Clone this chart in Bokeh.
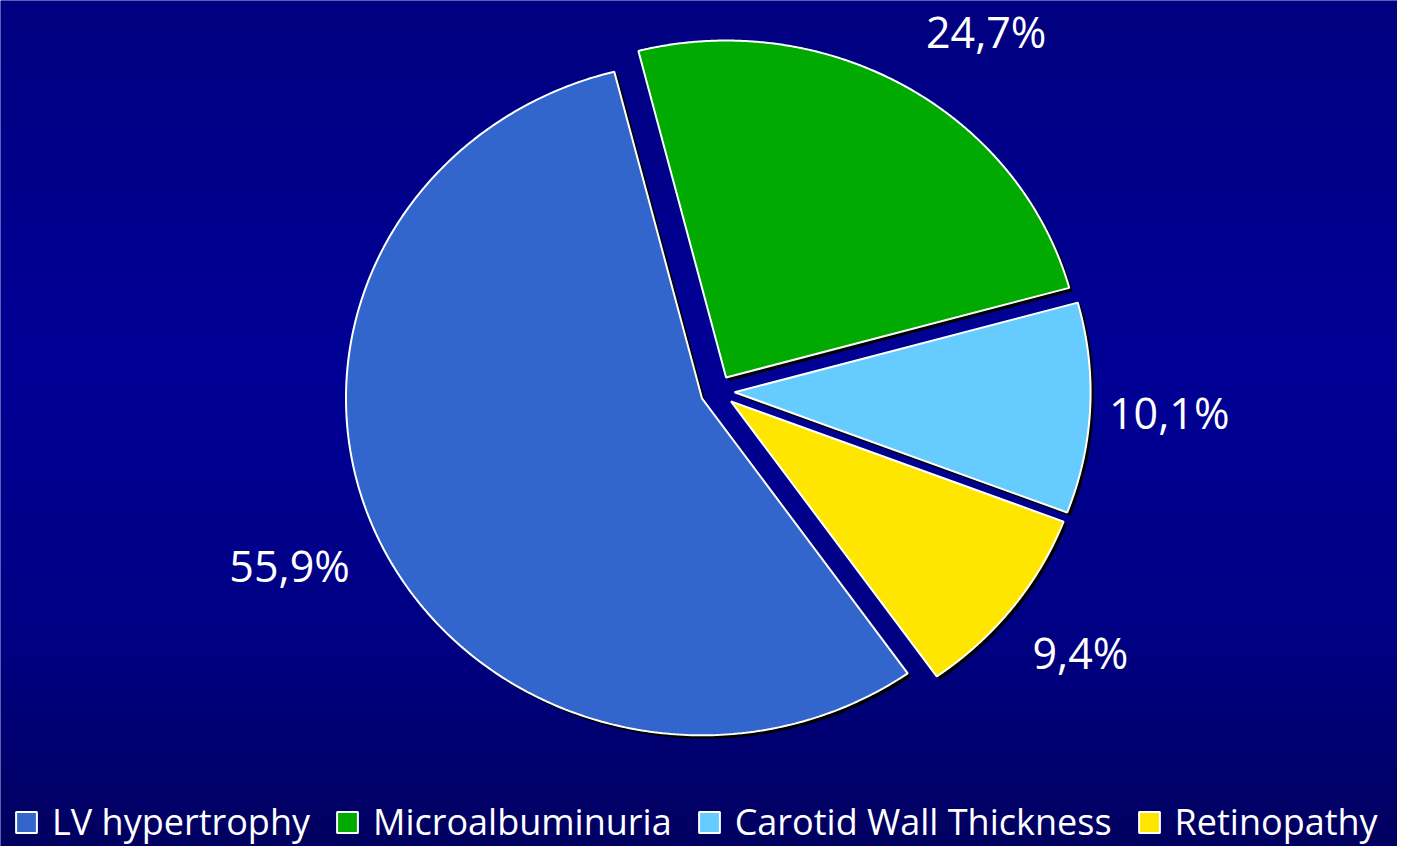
import numpy as np
from bokeh.plotting import figure
from bokeh.models import ColumnDataSource, Legend, LegendItem, Range1d
from bokeh.core.properties import value
from bokeh.embed import file_html
from bokeh.resources import INLINE

# ---- data ----
categories = ["LV hypertrophy", "Microalbuminuria", "Carotid Wall Thickness", "Retinopathy"]
percentages = [55.9, 24.7, 10.1, 9.4]
label_texts = ["55,9%", "24,7%", "10,1%", "9,4%"]
colors = ["#3366CC", "#00AA00", "#66CCFF", "#FFE600"]

# ---- layout / style ----
W, H = 1397, 846
RX, RY = 356, 337          # pixels per data unit (pie is slightly elliptical)
CX, CY = 717, 391          # pie centre in figure pixels from top-left
START_DEG = -54.7          # slices run clockwise from here
EXPLODE = 0.048
SHADOW_PX = 3
LABEL_R = 1.29
label_dx = [-11, 38, -7, 0]
label_dy = [-8, 16, 0, -5]
FONT = "Open Sans"

x0, x1 = -CX / RX, (W - CX) / RX
y1, y0 = CY / RY, -(H - CY) / RY

p = figure(width=W, height=H, x_range=Range1d(x0, x1), y_range=Range1d(y0, y1),
           output_backend="svg", toolbar_location=None, min_border=0,
           x_axis_location=None, y_axis_location=None)
p.grid.visible = False
p.outline_line_color = None
p.background_fill_color = "#000088"
p.border_fill_color = "#000088"

# background gradient
n = 400
img = np.empty((n, 2), dtype=np.uint32)
view = img.view(dtype=np.uint8).reshape((n, 2, 4))
t = 1 - np.arange(n) / (n - 1)   # 0 top, 1 bottom
blue = np.interp(t, [0, 0.42, 0.75, 1], [128, 150, 132, 96])
view[..., 0] = 0
view[..., 1] = 0
view[..., 2] = blue[:, None].astype(np.uint8)
view[..., 3] = 255
p.image_rgba(image=[img], x=x0, y=y0, dw=x1 - x0, dh=y1 - y0)

vals = np.array(percentages)
fr = vals / vals.sum()
edges = np.deg2rad(START_DEG) - 2 * np.pi * np.concatenate([[0], np.cumsum(fr)])

xs_list, ys_list, mids = [], [], []
for i in range(len(vals)):
    a0, a1 = edges[i], edges[i + 1]
    tt = np.linspace(a0, a1, 300)
    mid = (a0 + a1) / 2
    ox, oy = EXPLODE * np.cos(mid), EXPLODE * np.sin(mid)
    xs_list.append(np.concatenate([[ox], ox + np.cos(tt)]))
    ys_list.append(np.concatenate([[oy], oy + np.sin(tt)]))
    mids.append(mid)

# shadows
sdx, sdy = SHADOW_PX / RX, SHADOW_PX / RY
p.patches(xs=[x + sdx for x in xs_list], ys=[y - sdy for y in ys_list],
          fill_color="black", line_color="black", line_width=1)

items = []
for i in range(len(vals)):
    r = p.patch(xs_list[i], ys_list[i], fill_color=colors[i], line_color="white", line_width=2)
    items.append(LegendItem(label=categories[i], renderers=[r]))

mids = np.array(mids)
lsrc = ColumnDataSource(dict(x=LABEL_R * np.cos(mids), y=LABEL_R * np.sin(mids),
                             text=label_texts, dx=label_dx, dy=label_dy))
p.text(x="x", y="y", text="text", x_offset="dx", y_offset="dy", source=lsrc,
       text_color="white", text_font=value(FONT), text_font_size="43px",
       text_align="center", text_baseline="middle")

legend = Legend(items=items, orientation="horizontal", location=(13, 0),
                label_text_color="white", label_text_font=FONT,
                label_text_font_size="36px", glyph_width=26, glyph_height=26,
                label_standoff=13, spacing=24, padding=0, margin=0,
                background_fill_alpha=0, border_line_color=None,
                label_height=38)
p.add_layout(legend)

open("out.html", "w").write(file_html(p, INLINE))
